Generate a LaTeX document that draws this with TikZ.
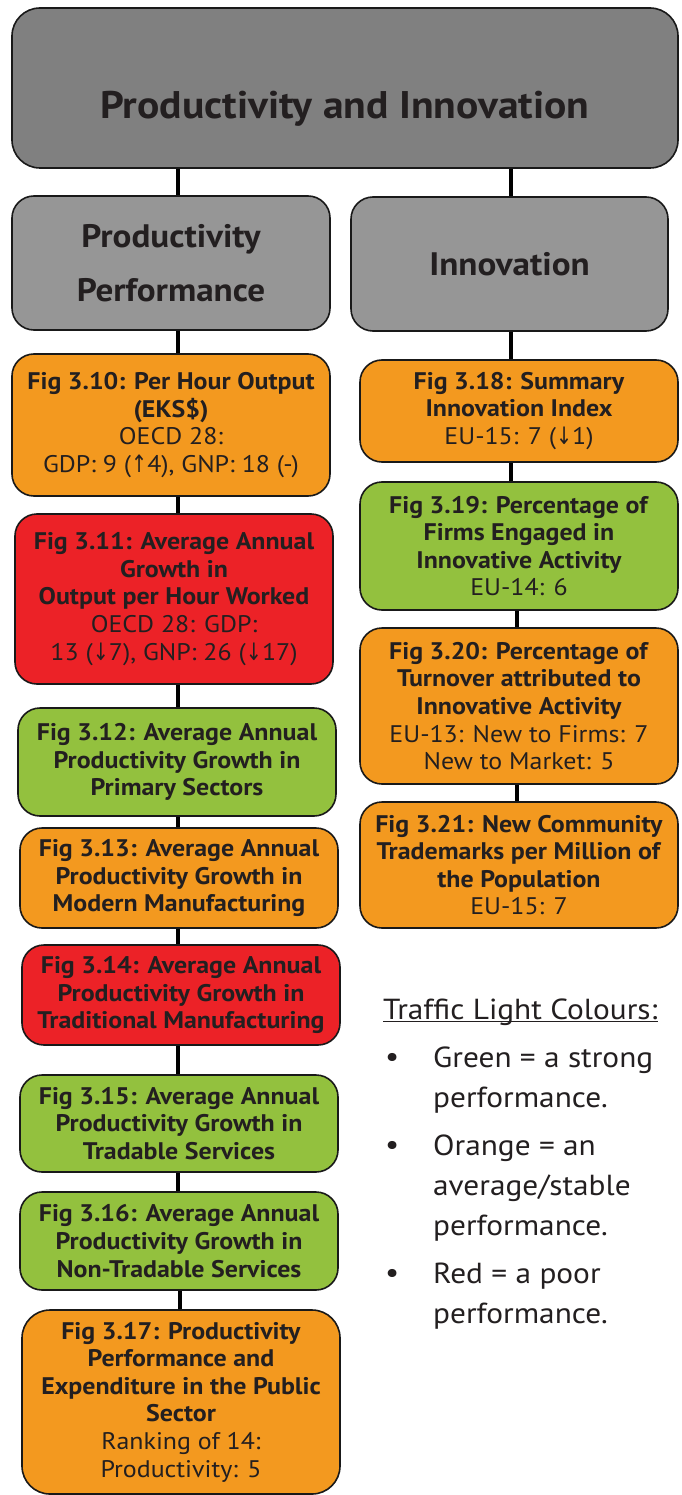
\documentclass[tikz,border=0pt]{standalone}
\usepackage{fontspec}
\setmainfont{PT Sans}[FakeStretch=1.08]
\newfontfamily\arrfont{DejaVu Sans}[FakeStretch=0.8]
\definecolor{txt}{HTML}{231F20}
\definecolor{gtop}{HTML}{808080}
\definecolor{gsub}{HTML}{969696}
\definecolor{corange}{HTML}{F3991F}
\definecolor{cred}{HTML}{EC2227}
\definecolor{cgreen}{HTML}{93C13E}
\newcommand{\up}{{\arrfont\fontsize{24}{20}\selectfont ↑}}
\newcommand{\dn}{{\arrfont\fontsize{24}{20}\selectfont ↓}}
\tikzset{
  boxbase/.style={draw=black!90, line width=1.6pt, rounded corners=22pt, align=center, inner sep=0pt, text=txt,
    font=\fontsize{24}{27.6}\selectfont, minimum width=318pt},
  headbox/.style={boxbase, fill=gsub, font=\bfseries\fontsize{32.5}{54}\selectfont},
  orbox/.style={boxbase, fill=corange},
  rdbox/.style={boxbase, fill=cred},
  grbox/.style={boxbase, fill=cgreen},
  conn/.style={line width=4.5pt, black},
  legtxt/.style={anchor=west, text=txt, font=\fontsize{29}{30}\selectfont, inner sep=0pt},
}
\begin{document}
\begin{tikzpicture}[x=1pt,y=-1pt]
\useasboundingbox (0,0) rectangle (681,1495);
\fill[white] (0,0) rectangle (681,1495);
% top
\node[boxbase, fill=gtop, minimum width=666pt, minimum height=160pt, rounded corners=28pt,
  font=\bfseries\fontsize{38.5}{40}\selectfont, text height=72pt, text depth=10pt] (top) at (345,88) {Productivity and Innovation};
\node[headbox, minimum height=134pt] (pp) at (171,263) {Productivity\\Performance};
\node[headbox, minimum width=317pt, minimum height=134pt] (inn) at (509.5,264) {Innovation};
% left column
\node[orbox, minimum height=142pt] (f310) at (171,425)
  {\textbf{Fig 3.10: Per Hour Output}\\\textbf{(EKS\$)}\\OECD 28:\\GDP: 9 (\up4), GNP: 18 (-)};
\node[rdbox, minimum height=170pt] (f311) at (174,599)
  {\textbf{Fig 3.11: Average Annual}\\\textbf{Growth in}\\\textbf{Output per Hour Worked}\\OECD 28: GDP:\\13 (\dn7), GNP: 26 (\dn17)};
\node[grbox, minimum height=108pt] (f312) at (177,762)
  {\textbf{Fig 3.12: Average Annual}\\\textbf{Productivity Growth in}\\\textbf{Primary Sectors}};
\node[orbox, minimum height=100pt] (f313) at (179,878)
  {\textbf{Fig 3.13: Average Annual}\\\textbf{Productivity Growth in}\\\textbf{Modern Manufacturing}};
\node[rdbox, minimum height=100pt] (f314) at (181,995)
  {\textbf{Fig 3.14: Average Annual}\\\textbf{Productivity Growth in}\\\textbf{Traditional Manufacturing}};
\node[grbox, minimum height=97pt] (f315) at (179,1123.5)
  {\textbf{Fig 3.15: Average Annual}\\\textbf{Productivity Growth in}\\\textbf{Tradable Services}};
\node[grbox, minimum height=98pt] (f316) at (179,1241)
  {\textbf{Fig 3.16: Average Annual}\\\textbf{Productivity Growth in}\\\textbf{Non-Tradable Services}};
\node[orbox, minimum height=184pt, rounded corners=28pt] (f317) at (181,1402)
  {\textbf{Fig 3.17: Productivity}\\\textbf{Performance and}\\\textbf{Expenditure in the Public}\\\textbf{Sector}\\Ranking of 14:\\Productivity: 5};
% right column
\node[orbox, minimum height=102pt] (f318) at (519,411)
  {\textbf{Fig 3.18: Summary}\\\textbf{Innovation Index}\\EU-15: 7 (\dn1)};
\node[grbox, minimum height=128pt] (f319) at (519,546)
  {\textbf{Fig 3.19: Percentage of}\\\textbf{Firms Engaged in}\\\textbf{Innovative Activity}\\EU-14: 6};
\node[orbox, minimum height=156pt] (f320) at (519,706)
  {\textbf{Fig 3.20: Percentage of}\\\textbf{Turnover attributed to}\\\textbf{Innovative Activity}\\EU-13: New to Firms: 7\\New to Market: 5};
\node[orbox, minimum height=126pt] (f321) at (519,865)
  {\textbf{Fig 3.21: New Community}\\\textbf{Trademarks per Million of}\\\textbf{the Population}\\EU-15: 7};
% connector x positions
\coordinate (xa) at (178,0);
\coordinate (xb) at (511,0);
\coordinate (xc) at (517,0);
\coordinate (xd) at (180,0);
\draw[conn] (top.south -| xa) -- (pp.north -| xa);
\draw[conn] (top.south -| xb) -- (inn.north -| xb);
\draw[conn] (pp.south -| xa) -- (f310.north -| xa);
\draw[conn] (f310.south -| xa) -- (f311.north -| xa);
\draw[conn] (f311.south -| xa) -- (f312.north -| xa);
\draw[conn] (f312.south -| xa) -- (f313.north -| xa);
\draw[conn] (f313.south -| xa) -- (f314.north -| xa);
\draw[conn] (f314.south -| xa) -- (f315.north -| xa);
\draw[conn] (f315.south -| xa) -- (f316.north -| xa);
\draw[conn] (f316.south -| xd) -- (f317.north -| xd);
\draw[conn] (inn.south -| xb) -- (f318.north -| xb);
\draw[conn] (f318.south -| xb) -- (f319.north -| xb);
\draw[conn] (f319.south -| xc) -- (f320.north -| xc);
\draw[conn] (f320.south -| xc) -- (f321.north -| xc);
% legend
\node[legtxt] (lt) at (383,1012) {Traffic Light Colours:};
\draw[line width=1.5pt, txt] ([yshift=4pt]lt.south west) -- ([yshift=4pt]lt.south east);
\node[legtxt] (b1) at (385,1060) {•};
\node[legtxt] (g1) at (433,1060) {Green = a strong};
\node[legtxt] (g2) at (433,1100) {performance.};
\node[legtxt] (b2) at (385,1148) {•};
\node[legtxt] (o1) at (433,1148) {Orange = an};
\node[legtxt] (o2) at (433,1188) {average/stable};
\node[legtxt] (o3) at (433,1228) {performance.};
\node[legtxt] (b3) at (385,1276) {•};
\node[legtxt] (r1) at (433,1276) {Red = a poor};
\node[legtxt] (r2) at (433,1316) {performance.};
\end{tikzpicture}
\end{document}
